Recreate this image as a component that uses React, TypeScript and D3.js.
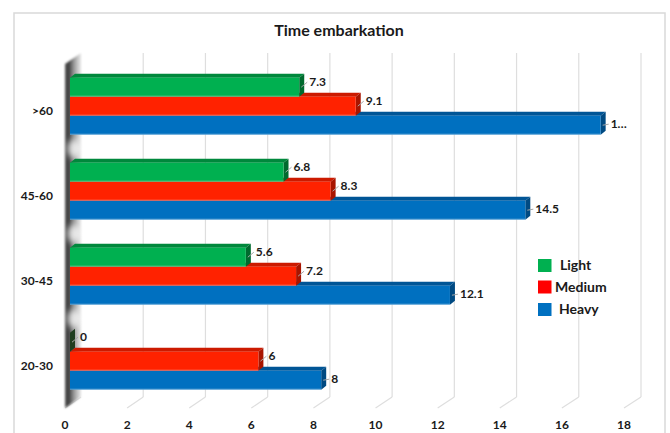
import React from "react";
import * as d3 from "d3";

// Categories (top to bottom) and series values
const categories = [">60", "45-60", "30-45", "20-30"];
const seriesNames = ["Light", "Medium", "Heavy"];
const lightValues = [7.3, 6.8, 5.6, 0];
const mediumValues = [9.1, 8.3, 7.2, 6];
const heavyValues = [16.9, 14.5, 12.1, 8];
const tickValues = [0, 2, 4, 6, 8, 10, 12, 14, 16, 18];

const W = 670;
const H = 433;

// Face colours for the extruded bars: front, top, side
const palette: Record<string, { front: string; top: string; side: string; legend: string }> = {
  Light: { front: "#00b050", top: "#00883c", side: "#006a2e", legend: "#00b050" },
  Medium: { front: "#ff2200", top: "#cc1a00", side: "#a81500", legend: "#ff0000" },
  Heavy: { front: "#0070c0", top: "#005596", side: "#004a82", legend: "#0070c0" },
};

const labelLift: Record<string, number> = { Light: 4, Medium: 4, Heavy: 0 };

const FONT = "Lato, 'Open Sans', 'Liberation Sans', sans-serif";

export default function App() {
  const valuesBySeries: Record<string, number[]> = {
    Light: lightValues,
    Medium: mediumValues,
    Heavy: heavyValues,
  };

  // Depth offsets of the 3D box (back wall relative to the front edge)
  const depthX = 16;
  const depthY = -11;
  const floorFrontY = 408;
  const wallTop = 53;

  const xFront = d3.scaleLinear().domain([0, 18]).range([65, 624]);
  const xBack = d3.scaleLinear().domain([0, 18]).range([65 + depthX, 624 + depthX + 1]);
  const xBar = d3.scaleLinear().domain([0, 18]).range([70, 70 + 18 * 31.4]);

  const yCat = d3
    .scaleBand<string>()
    .domain(categories)
    .range([63.7, 403.7])
    .paddingInner(28 / 85)
    .paddingOuter(14 / 85);
  const ySeries = d3.scaleBand<string>().domain(seriesNames).range([0, yCat.bandwidth()]);

  const barDX = 5;
  const barDY = 4;
  const labelLimit = 628;

  const pts = (arr: [number, number][]) => arr.map((p) => p.join(",")).join(" ");

  const formatLabel = (v: number, x: number) => {
    const s = d3.format("")(v);
    const est = s.length * 6.6;
    if (x + est > labelLimit) return s.slice(0, 1) + "…";
    return s;
  };

  // Draw lower series first so the upper bars' front faces sit over their top faces
  const drawOrder = [...seriesNames].reverse();

  return (
    <svg width={W} height={H} style={{ display: "block", position: "absolute", left: 0, top: 0 }}>
      <defs>
        <linearGradient id="wallGrad" gradientUnits="userSpaceOnUse" x1={62} x2={84} y1={0} y2={0}>
          <stop offset="0" stopColor="#d8d8d8" />
          <stop offset="0.12" stopColor="#5a5a5a" />
          <stop offset="0.3" stopColor="#3c3c3c" />
          <stop offset="0.55" stopColor="#9a9a9a" />
          <stop offset="0.8" stopColor="#dcdcdc" />
          <stop offset="1" stopColor="#f4f4f4" />
        </linearGradient>
        <filter id="soft" x="-50%" y="-10%" width="200%" height="120%">
          <feGaussianBlur stdDeviation="1.2" />
        </filter>
        <filter id="glow" x="-100%" y="-100%" width="300%" height="300%">
          <feGaussianBlur stdDeviation="3" />
        </filter>
      </defs>

      <rect x={0} y={0} width={W} height={H} fill="#ffffff" />
      {/* chart frame */}
      <rect x={14} y={13} width={651} height={H} fill="#ffffff" stroke="#d9d9d9" strokeWidth={1.5} />

      <text
        x={339}
        y={36}
        textAnchor="middle"
        fontFamily={FONT}
        fontWeight={700}
        fontSize={16}
        fill="#1a1a1a"
      >
        Time embarkation
      </text>

      {/* back wall gridlines */}
      {tickValues.slice(1).map((t) => (
        <line
          key={"g" + t}
          x1={xBack(t)}
          x2={xBack(t)}
          y1={wallTop}
          y2={floorFrontY + depthY}
          stroke="#dedede"
          strokeWidth={1.2}
        />
      ))}
      {/* floor gridlines */}
      {tickValues.map((t) => (
        <line
          key={"f" + t}
          x1={xFront(t)}
          y1={floorFrontY}
          x2={xBack(t)}
          y2={floorFrontY + depthY}
          stroke="#dedede"
          strokeWidth={1.2}
        />
      ))}

      {/* side wall */}
      <polygon
        points={pts([
          [65, wallTop - depthY],
          [65 + depthX, wallTop],
          [65 + depthX, floorFrontY + depthY],
          [65, floorFrontY],
        ])}
        fill="url(#wallGrad)"
        filter="url(#soft)"
      />
      {categories.slice(1).map((c) => {
        const gapY = (yCat(c) as number) - 14;
        return (
          <ellipse key={"hl" + c} cx={74} cy={gapY} rx={7} ry={9} fill="#ffffff" opacity={0.75} filter="url(#glow)" />
        );
      })}

      {/* bars */}
      {categories.map((c, ci) => (
        <g key={c}>
          {drawOrder.map((s) => {
            const v = valuesBySeries[s][ci];
            const y = (yCat(c) as number) + (ySeries(s) as number);
            const h = ySeries.bandwidth();
            const x0 = xBar(0);
            const xe = xBar(v);
            const col = palette[s];
            return (
              <g key={s}>
                <polygon
                  points={pts([
                    [x0, y],
                    [x0 + barDX, y - barDY],
                    [xe + barDX, y - barDY],
                    [xe, y],
                  ])}
                  fill={col.top}
                />
                <polygon
                  points={pts([
                    [xe, y],
                    [xe + barDX, y - barDY],
                    [xe + barDX, y + h - barDY],
                    [xe, y + h],
                  ])}
                  fill={v === 0 ? "#1f3d1f" : col.side}
                />
                {v > 0 && <rect x={x0} y={y} width={xe - x0} height={h} fill={col.front} />}
                {v > 0 && (
                  <line x1={x0} x2={xe} y1={y + h - 0.5} y2={y + h - 0.5} stroke="#ffffff" strokeOpacity={0.35} strokeWidth={1} />
                )}
              </g>
            );
          })}
          {/* data labels with leader lines */}
          {seriesNames.map((s) => {
            const v = valuesBySeries[s][ci];
            const y = (yCat(c) as number) + (ySeries(s) as number);
            const h = ySeries.bandwidth();
            const xe = xBar(v);
            const cy = y + h / 2 - 1;
            const ly = cy - labelLift[s];
            const lx = xe + 10;
            return (
              <g key={"l" + s}>
                <line x1={xe + 2} y1={cy + 1} x2={lx - 2} y2={ly} stroke="#a6a6a6" strokeWidth={1} />
                <text
                  x={lx}
                  y={ly}
                  dy="0.35em"
                  fontFamily={FONT}
                  fontWeight={700}
                  fontSize={12}
                  fill="#1a1a1a"
                >
                  {formatLabel(v, lx)}
                </text>
              </g>
            );
          })}
          <text
            x={53}
            y={(yCat(c) as number) + yCat.bandwidth() / 2 + 4.5}
            dy="0.35em"
            textAnchor="end"
            fontFamily={FONT}
            fontWeight={700}
            fontSize={12}
            fill="#1a1a1a"
          >
            {c}
          </text>
        </g>
      ))}

      {/* value axis labels */}
      {tickValues.map((t) => (
        <text
          key={"t" + t}
          x={xFront(t)}
          y={425}
          dy="0.35em"
          textAnchor="middle"
          fontFamily={FONT}
          fontWeight={700}
          fontSize={12}
          fill="#1a1a1a"
        >
          {t}
        </text>
      ))}

      {/* legend */}
      {seriesNames.map((s, i) => {
        const rowY = [265.5, 287, 309.5][i];
        const textX = [560, 555, 559][i];
        return (
          <g key={"lg" + s}>
            <rect x={538} y={rowY - 6.5} width={13.5} height={13} fill={palette[s].legend} />
            <text
              x={textX}
              y={rowY}
              dy="0.35em"
              fontFamily={FONT}
              fontWeight={700}
              fontSize={14}
              fill="#1a1a1a"
            >
              {s}
            </text>
          </g>
        );
      })}
    </svg>
  );
}
